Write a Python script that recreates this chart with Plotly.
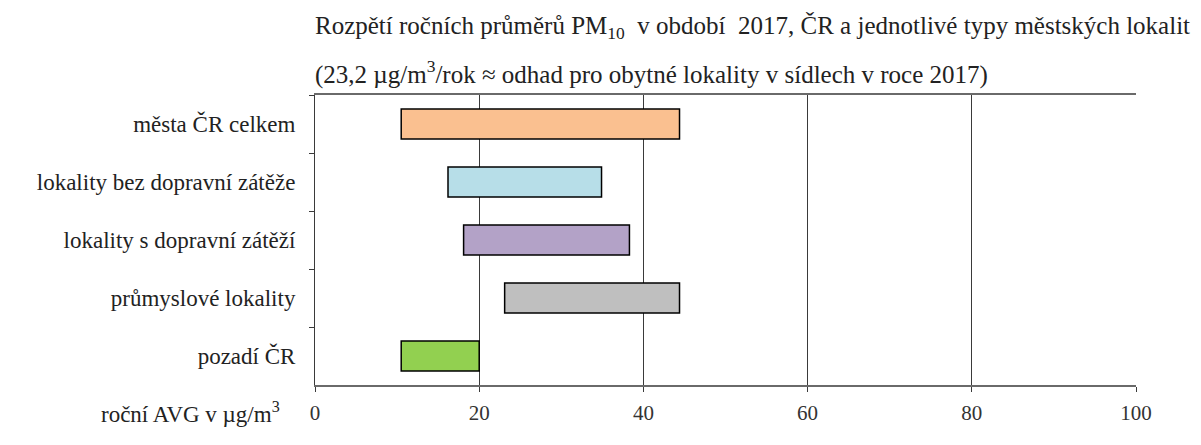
import plotly.graph_objects as go

categories = [
    "města ČR celkem",
    "lokality bez dopravní zátěže",
    "lokality s dopravní zátěží",
    "průmyslové lokality",
    "pozadí ČR",
]
range_min = [10.5, 16.2, 18.1, 23.1, 10.5]
range_max = [44.4, 34.9, 38.3, 44.4, 20.0]
colors = ["#FAC090", "#B7DEE8", "#B3A2C7", "#BFBFBF", "#92D050"]
x_ticks = [0, 20, 40, 60, 80, 100]

title_line1 = "Rozpětí ročních průměrů PM<sub>10</sub>  v období  2017, ČR a jednotlivé typy městských lokalit"
title_line2 = "(23,2 µg/m<sup>3</sup>/rok ≈ odhad pro obytné lokality v sídlech v roce 2017)"
axis_note = "roční AVG v µg/m<sup>3</sup>"

FONT = "Liberation Serif, Times New Roman, serif"

widths = [hi - lo for lo, hi in zip(range_min, range_max)]

fig = go.Figure(
    go.Bar(
        y=categories,
        x=widths,
        base=range_min,
        orientation="h",
        marker=dict(color=colors, line=dict(color="#000000", width=1.5)),
        hoverinfo="skip",
    )
)

fig.update_layout(
    width=1201,
    height=445,
    margin=dict(l=307, r=73, t=87, b=68),
    paper_bgcolor="white",
    plot_bgcolor="white",
    bargap=0.48,
    showlegend=False,
    font=dict(family=FONT, size=22, color="#222222"),
    xaxis=dict(
        range=[0, 100],
        tickvals=x_ticks,
        ticktext=[str(v) for v in x_ticks],
        showgrid=True,
        gridcolor="#3a3a3a",
        gridwidth=1,
        zeroline=False,
        showline=True,
        linecolor="#6a6a6a",
        linewidth=1.5,
        mirror=True,
        ticks="outside",
        ticklen=5,
        tickcolor="#3a3a3a",
        ticklabelstandoff=3,
        tickfont=dict(family=FONT, size=21, color="#333333"),
    ),
    yaxis=dict(
        categoryorder="array",
        categoryarray=categories,
        autorange="reversed",
        showgrid=False,
        zeroline=False,
        showline=True,
        linecolor="#3a3a3a",
        linewidth=1,
        ticks="outside",
        tickson="boundaries",
        ticklen=5,
        tickcolor="#3a3a3a",
        ticklabelstandoff=14,
        tickfont=dict(family=FONT, size=23, color="#222222"),
    ),
    annotations=[
        dict(text=title_line1, xref="paper", yref="paper", x=-0.002, y=1.2335,
             xanchor="left", yanchor="middle", showarrow=False,
             font=dict(family=FONT, size=25, color="#222222")),
        dict(text=title_line2, xref="paper", yref="paper", x=-0.002, y=1.0783,
             xanchor="left", yanchor="middle", showarrow=False,
             font=dict(family=FONT, size=25, color="#222222")),
        dict(text=axis_note, xref="paper", yref="paper", x=-0.04, y=-0.094,
             xanchor="right", yanchor="middle", showarrow=False,
             font=dict(family=FONT, size=23, color="#222222")),
    ],
)

fig.write_html("out.html")
